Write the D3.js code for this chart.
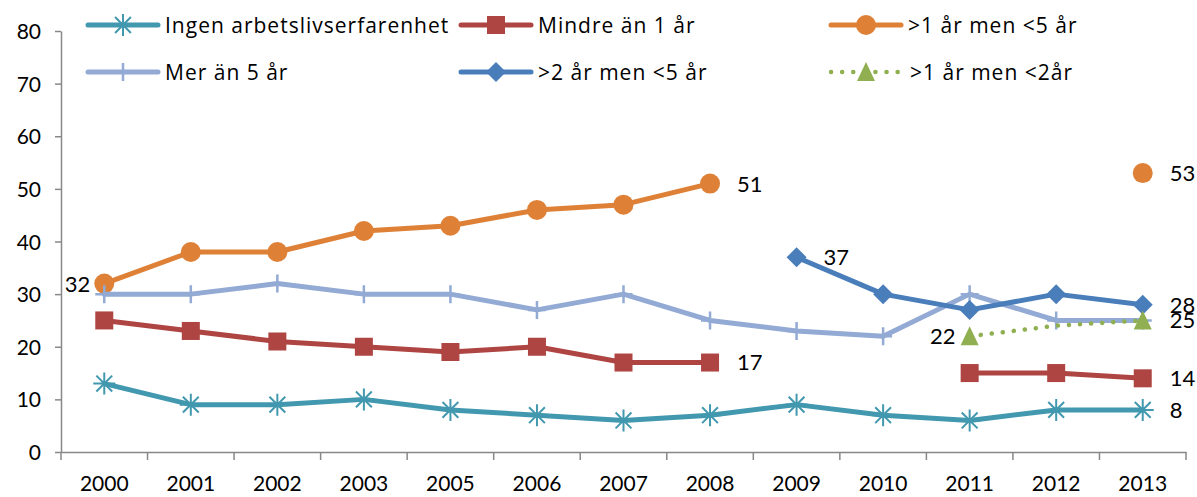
<!DOCTYPE html>
<html>
<head>
<meta charset="utf-8">
<script src="https://cdn.jsdelivr.net/npm/d3@7"></script>
<style>
body{margin:0;background:#fff;}
svg text{font-family:Lato,"Open Sans",sans-serif;fill:#000;}
svg text.leg{font-family:"Open Sans",Lato,sans-serif;letter-spacing:1px;}
</style>
</head>
<body>
<svg id="chart" width="1197" height="497"></svg>
<script>
// categories (2004 is missing in the source)
var years = ['2000','2001','2002','2003','2005','2006','2007','2008','2009','2010','2011','2012','2013'];
var yTicks = [0,10,20,30,40,50,60,70,80];

var ingen    = [13,9,9,10,8,7,6,7,9,7,6,8,8];
var mindre1  = [25,23,21,20,19,20,17,17,null,null,15,15,14];
var mellan15 = [32,38,38,42,43,46,47,51,null,null,null,null,53];
var mer5     = [30,30,32,30,30,27,30,25,23,22,30,25,25];
var mellan25 = [null,null,null,null,null,null,null,null,37,30,27,30,28];
var mellan12 = [null,null,null,null,null,null,null,null,null,null,22,24,25];

var series = [
  {name:'Ingen arbetslivserfarenhet', values:ingen, color:'#4298AE', marker:'star', labels:{12:'right'}},
  {name:'Mindre än 1 år', values:mindre1, color:'#AE4542', marker:'square', labels:{7:'right',12:'right'}},
  {name:'>1 år men <5 år', values:mellan15, color:'#DE8137', marker:'circle', labels:{0:'left',7:'right',12:'right'}},
  {name:'Mer än 5 år', values:mer5, color:'#92AAD4', marker:'plus', labels:{}},
  {name:'>2 år men <5 år', values:mellan25, color:'#4A7EBB', marker:'diamond', labels:{8:'right',12:'right'}},
  {name:'>1 år men <2år', values:mellan12, color:'#8FAF50', marker:'triangle', dotted:true, hide:[11], labels:{10:'left',12:'right'}}
];

var svg = d3.select('#chart');
var plotL = 61, plotR = 1186, plotT = 31, plotB = 452;

var x = d3.scaleBand().domain(years).range([plotL,plotR]);
var y = d3.scaleLinear().domain([0,80]).range([plotB,plotT]);

// y axis
var yAxis = svg.append('g').attr('transform','translate('+plotL+',0)')
  .call(d3.axisLeft(y).tickValues(yTicks).tickSize(6).tickSizeOuter(0).tickPadding(14));
yAxis.select('.domain').attr('stroke','#888').attr('stroke-width',1.5);
yAxis.selectAll('.tick line').attr('stroke','#888').attr('stroke-width',1.5);
yAxis.selectAll('.tick text').style('font-size','21px').attr('dy','0.36em');

// x axis
var xAxis = svg.append('g').attr('transform','translate(0,'+plotB+')')
  .call(d3.axisBottom(x).tickSize(0).tickPadding(24).tickSizeOuter(0));
xAxis.select('.domain').attr('stroke','#888').attr('stroke-width',1.5);
xAxis.selectAll('.tick text').style('font-size','21px');
xAxis.selectAll('.bnd').data(years.concat(['end'])).enter().append('line')
  .attr('x1',function(d,i){return plotL+i*x.step();})
  .attr('x2',function(d,i){return plotL+i*x.step();})
  .attr('y1',0).attr('y2',8)
  .attr('stroke','#888').attr('stroke-width',1.5);

function cx(i){return x(years[i])+x.bandwidth()/2;}

function drawMarker(g,type,px,py,color){
  var s = 9;
  if (type=='circle'){
    g.append('circle').attr('cx',px).attr('cy',py).attr('r',s+1).attr('fill',color);
  } else if (type=='square'){
    g.append('rect').attr('x',px-s).attr('y',py-s).attr('width',2*s).attr('height',2*s).attr('fill',color);
  } else if (type=='diamond'){
    g.append('path').attr('d','M'+px+','+(py-s-1)+'L'+(px+s+1)+','+py+'L'+px+','+(py+s+1)+'L'+(px-s-1)+','+py+'Z').attr('fill',color);
  } else if (type=='triangle'){
    g.append('path').attr('d','M'+px+','+(py-s-1)+'L'+(px+s)+','+(py+s)+'L'+(px-s)+','+(py+s)+'Z').attr('fill',color);
  } else if (type=='star'){
    var r = 11;
    var p = 'M'+(px-r)+','+py+'L'+(px+r)+','+py+'M'+px+','+(py-r)+'L'+px+','+(py+r)
      +'M'+(px-r*0.72)+','+(py-r*0.72)+'L'+(px+r*0.72)+','+(py+r*0.72)
      +'M'+(px-r*0.72)+','+(py+r*0.72)+'L'+(px+r*0.72)+','+(py-r*0.72);
    g.append('path').attr('d',p).attr('stroke',color).attr('stroke-width',2).attr('fill','none');
  } else if (type=='plus'){
    g.append('path').attr('d','M'+px+','+(py-s)+'L'+px+','+(py+s)+'M'+(px-s)+','+py+'L'+(px+s)+','+py)
      .attr('stroke',color).attr('stroke-width',2.5).attr('fill','none');
  }
}

var line = d3.line()
  .defined(function(d){return d!==null;})
  .x(function(d,i){return cx(i);})
  .y(function(d){return y(d);});

var plot = svg.append('g');
series.forEach(function(s){
  var g = plot.append('g');
  g.append('path').datum(s.values)
    .attr('d',line)
    .attr('fill','none')
    .attr('stroke',s.color)
    .attr('stroke-width',s.dotted?4.5:5)
    .attr('stroke-linecap','round')
    .attr('stroke-linejoin','round')
    .attr('stroke-dasharray',s.dotted?'0.1,11':null);
  s.values.forEach(function(v,i){
    if (v===null) return;
    if (s.hide && s.hide.indexOf(i)>=0) return;
    drawMarker(g,s.marker,cx(i),y(v),s.color);
  });
});

// data labels
series.forEach(function(s){
  Object.keys(s.labels).forEach(function(k){
    var i = +k, v = s.values[i];
    var side = s.labels[k];
    svg.append('text')
      .attr('x', side=='right' ? cx(i)+27 : cx(i)-14)
      .attr('y', y(v))
      .attr('dy','0.36em')
      .attr('text-anchor', side=='right'?'start':'end')
      .style('font-size','22px')
      .text(v);
  });
});

// legend
var legX = [88,461,831], legY = [25,72];
series.forEach(function(s,j){
  var lx = legX[j%3], ly = legY[Math.floor(j/3)];
  var g = svg.append('g');
  g.append('line').attr('x1',lx).attr('x2',lx+70).attr('y1',ly).attr('y2',ly)
    .attr('stroke',s.color).attr('stroke-width',s.dotted?4.5:5)
    .attr('stroke-linecap','round')
    .attr('stroke-dasharray',s.dotted?'0.1,11':null);
  drawMarker(g,s.marker,lx+35,ly,s.color);
  g.append('text').attr('class','leg').attr('x',lx+(s.dotted?79:77)).attr('y',ly).attr('dy','0.36em')
    .style('font-size','21px').text(s.name);
});
</script>
</body>
</html>
